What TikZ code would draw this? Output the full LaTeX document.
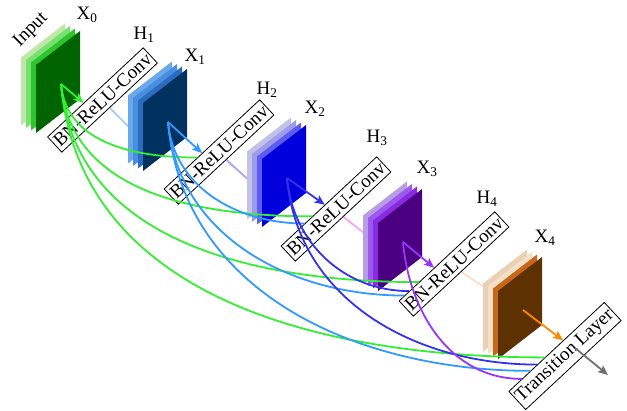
\documentclass[tikz,border=0pt]{standalone}
\usepackage{fontspec}
\setmainfont{Liberation Serif}
\usetikzlibrary{calc,arrows.meta,backgrounds}

% feature-map layer colours, back to front
\definecolor{xa1}{HTML}{BDE8A6}
\definecolor{xa2}{HTML}{77E070}
\definecolor{xa3}{HTML}{2EC42E}
\definecolor{xa4}{HTML}{006400}
\definecolor{xb1}{HTML}{6AA8EC}
\definecolor{xb2}{HTML}{4A8EE0}
\definecolor{xb3}{HTML}{2A6CBE}
\definecolor{xb4}{HTML}{00315F}
\definecolor{xc1}{HTML}{C2C2E8}
\definecolor{xc2}{HTML}{9C9CEA}
\definecolor{xc3}{HTML}{5C5CF0}
\definecolor{xc4}{HTML}{0000DD}
\definecolor{xd1}{HTML}{B89CE4}
\definecolor{xd2}{HTML}{9B59F0}
\definecolor{xd3}{HTML}{8A2BE2}
\definecolor{xd4}{HTML}{4B0082}
\definecolor{xe1}{HTML}{EAD1B4}
\definecolor{xe2}{HTML}{F4DFC8}
\definecolor{xe3}{HTML}{C8661A}
\definecolor{xe4}{HTML}{5E3100}
% connection colours
\definecolor{cA}{HTML}{33EE33}
\definecolor{cB}{HTML}{3399FF}
\definecolor{cC}{HTML}{3333EE}
\definecolor{cD}{HTML}{9933FF}
\definecolor{cE}{HTML}{FF8800}
\definecolor{cF}{HTML}{707070}
\definecolor{fB}{HTML}{A8CCF5}
\definecolor{fC}{HTML}{A6A6F2}
\definecolor{fD}{HTML}{F6A6F2}
\definecolor{fE}{HTML}{FDDDC8}

% a stack of four feature maps; #1 name, (#2,#3) front lower-left corner
\newcommand\featmap[7]{%
  \foreach \k/\col in {3/#4,2/#5,1/#6,0/#7}{%
    \fill[fill=\col] (#2-5*\k,#3-2.5*\k) -- ++(0,-68) -- ++(44,-34) -- ++(0,68) -- cycle;
  }%
  \coordinate (#1) at (#2+25,#3-49);%
}

\begin{document}
\begin{tikzpicture}[x=1pt,y=-1pt,
  conv/.style={draw=black, line width=0.8pt, fill=white, rotate=43,
    inner xsep=2pt, inner ysep=4pt, font=\fontsize{19}{21}\selectfont},
  lbl/.style={font=\fontsize{19}{21}\selectfont, inner sep=0pt},
  side/.style={line width=1.8pt},
  feed/.style={line width=1.8pt, -{Stealth[length=10pt,width=8.5pt,inset=2pt]}},
  dense/.style={line width=1.8pt},
]
\useasboundingbox (0,0) rectangle (627,411);

% feature maps
\featmap{x0}{36}{133}{xa1}{xa2}{xa3}{xa4}
\featmap{x1}{143}{171}{xb1}{xb2}{xb3}{xb4}
\featmap{x2}{262}{227}{xc1}{xc2}{xc3}{xc4}
\featmap{x3}{378}{291}{xd1}{xd2}{xd3}{xd4}
\featmap{x4}{498}{359}{xe1}{xe2}{xe3}{xe4}

% composite functions
\node[conv] (h1) at (102.5,100) {BN-ReLU-Conv};
\node[conv] (h2) at (219,152) {BN-ReLU-Conv};
\node[conv] (h3) at (336,209) {BN-ReLU-Conv};
\node[conv] (h4) at (454,264) {BN-ReLU-Conv};
\node[conv] (tl) at (565,356) {Transition Layer};

% outputs of each function feeding the next map (behind everything)
\begin{pgfonlayer}{background}
\draw[side,fB] (h1.south) -- ++(-45:50pt) coordinate (e1);
\draw[side,fC] (h2.south) -- ++(-42:50pt) coordinate (e2);
\draw[side,fD] (h3.south) -- ++(-38:50pt) coordinate (e3);
\draw[side,fE] (h4.south) -- ++(-34:50pt) coordinate (e4);
\end{pgfonlayer}

% dense connections
\draw[dense,cA] (x0) to[out=-85,in=180] ($(h2.north west)!0.35!(h2.north east)$);
\draw[dense,cA] (x0) to[out=-85,in=180] ($(h3.north west)!0.33!(h3.north east)$);
\draw[dense,cA] (x0) to[out=-85,in=180] ($(h4.north west)!0.21!(h4.north east)$);
\draw[dense,cA] (x0) to[out=-85,in=180] ($(tl.north west)!0.38!(tl.north east)$);
\draw[dense,cB] (x1) to[out=-85,in=180] ($(h3.north west)!0.25!(h3.north east)$);
\draw[dense,cB] (x1) to[out=-85,in=180] ($(h4.north west)!0.06!(h4.north east)$);
\draw[dense,cB] (x1) to[out=-85,in=180] ($(tl.north west)!0.23!(tl.north east)$);
\draw[dense,cC] (x2) to[out=-85,in=180] ($(h4.north west)!0.11!(h4.north east)$);
\draw[dense,cC] (x2) to[out=-85,in=180] ($(tl.north west)!0.30!(tl.north east)$);
\draw[dense,cD] (x3) to[out=-85,in=180] ($(tl.north west)!0.14!(tl.north east)$);

% direct inputs
\draw[feed,cA] (x0) -- ($(h1.north west)!0.38!(h1.north east)$);
\draw[feed,cB] (x1) -- ($(h2.north west)!0.40!(h2.north east)$);
\draw[feed,cC] (x2) -- ($(h3.north west)!0.46!(h3.north east)$);
\draw[feed,cD] (x3) -- ($(h4.north west)!0.37!(h4.north east)$);
\draw[feed,cE] (x4) -- ($(tl.north west)!0.57!(tl.north east)$);
\coordinate (tout) at ($(tl.center)+(10,-8)$);
\coordinate (tend) at ($(tout)+(33,27)$);
\draw[feed,cF] (tout) -- (tend);

% labels
\node[lbl,rotate=45] (lin) at (31,30) {Input};
\node[lbl] (lx0) at (87,15) {X\textsubscript{0}};
\node[lbl] (lh1) at (144,35) {H\textsubscript{1}};
\node[lbl] (lx1) at (195,57) {X\textsubscript{1}};
\node[lbl] (lh2) at (267,90) {H\textsubscript{2}};
\node[lbl] (lx2) at (315,109) {X\textsubscript{2}};
\node[lbl] (lh3) at (377,138) {H\textsubscript{3}};
\node[lbl] (lx3) at (427,169) {X\textsubscript{3}};
\node[lbl] (lh4) at (487,199) {H\textsubscript{4}};
\node[lbl] (lx4) at (545,238) {X\textsubscript{4}};
\end{tikzpicture}
\end{document}
